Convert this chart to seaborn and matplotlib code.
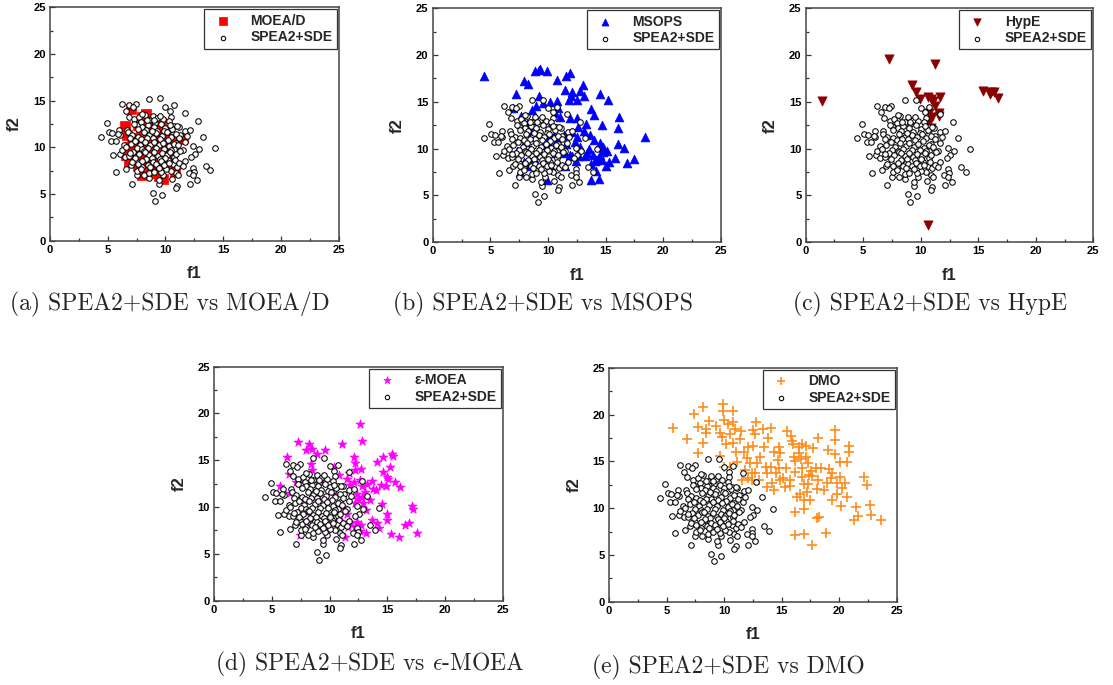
import matplotlib
matplotlib.use("Agg")
import matplotlib.pyplot as plt
from matplotlib.ticker import MultipleLocator
import seaborn as sns
import pandas as pd

# SPEA2+SDE final population (shared reference set in every panel)
sde_f1 = [4.45, 4.9, 5.1, 5.4, 5.3, 5.7, 5.5, 5.75, 6.0, 6.2, 6.55, 6.85, 7.45, 7.2, 7.1, 6.6,
          6.45, 6.1, 6.8, 7.3, 7.5, 6.7, 6.75, 6.05, 6.2, 6.5, 6.85, 7.0, 7.45, 7.5, 7.55, 7.95,
          8.3, 8.1, 8.6, 8.6, 8.9, 9.7, 9.1, 9.45, 9.4, 9.75, 8.6, 9.55, 10.0, 10.75, 10.4, 10.45,
          11.65, 12.8, 13.25, 12.9, 14.25, 13.5, 13.9, 12.7, 12.1, 12.4, 12.45, 12.0, 12.4, 12.4,
          12.55, 12.25, 11.7, 11.5, 11.65, 11.25, 11.15, 11.7, 11.85, 10.7, 10.35, 10.9, 10.75,
          10.75, 10.65, 11.0, 10.9, 10.45, 11.1, 11.0, 10.9, 10.55, 10.2, 10.05, 9.65, 9.3, 9.0,
          7.7, 8.2, 8.9, 9.3, 9.8, 9.5, 8.6, 10.3, 7.9, 9.1,
          7.3, 8.0, 8.5, 9.0, 9.6, 10.0, 10.6, 11.0, 8.3, 9.3, 9.9, 7.6, 10.4,
          7.1, 7.6, 8.1, 8.6, 8.9, 9.2, 9.7, 10.1, 10.5, 10.9, 7.9, 8.4, 9.5, 10.2, 11.2, 6.9, 8.8,
          7.0, 7.4, 7.8, 8.2, 8.7, 9.0, 9.4, 9.8, 10.3, 10.7, 11.1, 8.5, 9.2, 9.9, 10.5, 7.5, 8.0, 6.6,
          7.2, 7.7, 8.1, 8.6, 9.0, 9.35, 9.7, 10.1, 10.4, 10.9, 11.3, 8.8, 9.5, 10.0, 7.4, 8.3, 6.9,
          7.1, 7.6, 8.0, 8.5, 8.9, 9.2, 9.6, 9.9, 10.3, 10.8, 11.2, 8.7, 9.4, 7.9, 11.5,
          8.0, 8.4, 12.1, 5.9, 9.05, 8.25]
sde_f2 = [11.1, 12.6, 11.6, 11.5, 10.7, 10.7, 9.2, 7.35, 11.9, 14.6, 13.9, 14.5, 14.6, 14.3, 6.1, 7.7,
          10.25, 9.3, 13.3, 13.0, 12.4, 11.9, 11.6, 11.3, 9.7, 9.0, 9.1, 8.1, 8.5, 7.0, 7.5, 7.9,
          8.7, 7.0, 6.75, 7.25, 5.15, 4.9, 4.3, 6.05, 6.45, 7.0, 15.2, 15.25, 14.35, 14.5, 13.9, 13.3,
          13.7, 12.8, 11.15, 9.8, 9.95, 8.05, 7.55, 6.45, 6.1, 7.8, 7.35, 7.2, 7.0, 10.1,
          9.3, 9.0, 8.55, 9.75, 10.6, 11.35, 12.2, 11.8, 11.2, 12.3, 11.85, 10.5, 9.8,
          9.0, 8.2, 7.9, 7.2, 7.5, 7.0, 5.9, 5.6, 6.6, 8.6, 7.65, 7.35, 8.0, 7.4,
          13.2, 13.5, 13.4, 13.1, 13.0, 13.4, 12.9, 12.8, 12.7, 12.6,
          12.5, 12.2, 12.4, 12.2, 12.5, 12.1, 12.0, 12.3, 11.9, 11.8, 11.7, 12.0, 12.4,
          11.3, 11.1, 11.6, 11.3, 11.0, 11.5, 11.2, 11.6, 11.1, 11.4, 10.9, 11.0, 10.9, 10.8, 11.0, 11.0, 11.7,
          10.4, 10.7, 10.2, 10.6, 10.3, 10.6, 10.2, 10.5, 10.1, 10.4, 10.2, 9.95, 9.9, 9.85, 9.7, 9.9, 9.8, 10.0,
          9.5, 9.3, 9.6, 9.2, 9.5, 9.1, 9.4, 9.2, 9.5, 9.3, 9.6, 8.9, 8.8, 8.9, 8.9, 8.8, 9.4,
          8.4, 8.2, 8.5, 8.1, 8.4, 8.2, 8.5, 8.1, 8.3, 8.6, 8.3, 7.9, 7.8, 7.7, 8.0,
          13.6, 12.9, 11.9, 11.4, 12.9, 9.55]

# MOEA/D
moead_f1 = [7.0, 8.3, 8.0, 7.6, 6.5, 6.7, 7.2, 8.2, 8.6, 8.9, 9.5, 9.2, 10.0, 10.5, 11.0, 11.5,
            9.7, 8.4, 7.7, 6.8, 7.0, 7.3, 6.6, 7.5, 8.1, 8.5, 9.0, 9.6, 10.2, 10.0, 6.8, 7.4,
            8.2, 8.9, 9.5, 10.3, 10.6, 7.6, 8.0, 8.7, 9.3, 9.8, 10.8, 9.4, 7.1, 8.8, 7.9, 9.6]
moead_f2 = [14.1, 13.6, 13.2, 12.4, 12.3, 11.3, 11.0, 12.0, 12.1, 11.5, 11.9, 11.0, 11.1, 10.8, 10.9, 11.0,
            10.5, 10.4, 10.3, 10.0, 9.6, 9.9, 9.2, 9.2, 9.2, 9.0, 9.7, 9.5, 9.8, 9.2, 8.5, 8.6,
            8.3, 8.4, 8.1, 8.6, 8.2, 8.0, 7.0, 7.6, 7.2, 6.6, 7.4, 6.9, 10.5, 12.9, 11.4, 12.6]

# MSOPS
msops_f1 = [4.46, 7.2, 7.9, 8.3, 8.9, 9.2, 9.3, 9.95, 10.8, 11.6, 11.9, 11.5, 12.1, 12.0, 11.8,
            12.8, 13.0, 13.1, 12.5, 13.7, 14.0, 14.5, 15.2, 16.2, 16.1, 14.7, 16.1, 16.6, 18.4,
            17.5, 16.9, 15.8, 15.3, 15.0, 14.8, 14.4, 14.1, 13.7, 13.7, 14.4, 14.2, 13.6, 13.25,
            12.7, 12.4, 12.1, 11.5, 11.05, 10.8, 10.45, 9.95, 9.6, 9.1, 8.75, 7.9, 7.6, 8.15,
            7.3, 8.0, 8.6, 8.2, 7.7, 7.0, 8.6, 9.0, 9.55, 9.25, 10.2, 10.8, 10.9, 10.6, 11.05,
            11.9, 12.5, 12.65, 13.1, 13.3, 13.65, 14.0, 12.5, 12.05, 12.35, 12.8, 11.6, 11.35,
            10.2, 9.6, 10.05, 10.6, 10.2, 9.9, 11.5, 11.9, 15.1, 14.5, 14.7, 14.2, 13.9, 14.8,
            14.5, 13.4]
msops_f2 = [17.77, 15.8, 17.2, 16.9, 18.3, 18.4, 18.55, 18.3, 17.3, 17.8, 18.1, 16.3, 16.1, 15.6, 15.2,
            16.2, 16.8, 15.6, 15.2, 14.2, 13.6, 15.8, 15.2, 13.35, 12.25, 12.5, 10.5, 10.1, 11.3,
            8.9, 8.5, 9.05, 8.6, 8.1, 9.6, 9.15, 8.7, 8.4, 6.65, 6.8, 7.65, 10.0, 9.2,
            9.2, 8.7, 9.2, 9.5, 10.2, 10.9, 11.6, 11.2, 10.4, 9.65, 8.97, 8.6, 7.5, 8.1,
            9.7, 10.75, 11.9, 12.6, 13.5, 14.4, 14.1, 14.6, 14.9, 15.6, 15.0, 15.1, 14.4, 13.8, 13.4,
            13.25, 13.25, 12.35, 11.9, 12.6, 11.5, 10.9, 11.3, 11.8, 10.75, 10.2, 10.5, 11.45,
            12.4, 13.1, 10.6, 9.5, 8.3, 6.7, 8.1, 9.3, 9.75, 9.3, 8.8, 8.8, 9.3, 10.2,
            10.6, 9.5]

# HypE
hype_f1 = [1.45, 7.2, 11.25, 9.25, 9.55, 9.9, 10.6, 10.85, 11.1, 11.2, 11.7, 11.6, 10.75, 11.0,
           10.7, 10.85, 10.6, 10.65, 15.45, 16.0, 16.35, 16.75, 16.1, 11.55]
hype_f2 = [15.1, 19.55, 19.0, 16.8, 16.05, 15.3, 15.5, 15.35, 15.1, 14.6, 15.5, 13.85, 13.8, 13.35,
           12.9, 12.25, 12.65, 1.85, 16.15, 15.8, 16.05, 15.4, 16.1, 13.5]

# epsilon-MOEA
emoea_f1 = [12.65, 12.8, 7.3, 8.2, 8.0, 8.5, 9.6, 11.1, 6.35, 8.9, 8.4, 8.45, 10.4, 10.8, 12.1,
            12.25, 12.25, 12.7, 14.1, 14.6, 15.4, 15.5, 15.25, 14.6, 15.0, 15.1, 14.9, 15.7, 16.1,
            14.5, 13.65, 13.75, 14.0, 12.8, 12.65, 11.5, 11.8, 12.15, 12.35, 12.5, 12.8, 12.9,
            12.2, 13.5, 14.55, 15.0, 15.0, 17.1, 17.2, 17.55, 16.85, 16.55, 16.05, 15.35, 14.3,
            14.1, 13.65, 13.2, 12.65, 12.35, 11.9, 11.6, 11.35, 12.2, 12.7, 11.05, 10.6, 10.05,
            9.6, 9.7, 7.45, 7.7, 8.0, 8.3, 5.7, 6.5, 7.1, 7.75, 8.25, 9.3, 10.2, 10.35, 9.8, 8.9,
            8.0, 6.6, 11.2, 11.5, 10.5, 13.2, 13.1, 13.25, 11.7]
emoea_f2 = [18.9, 17.1, 16.9, 16.7, 16.1, 16.2, 16.1, 16.7, 15.3, 15.7, 14.6, 13.95, 14.3, 13.4, 15.4,
            14.7, 14.0, 14.1, 14.85, 15.4, 15.7, 15.5, 14.25, 13.8, 13.25, 13.0, 12.2, 12.7, 12.1,
            12.4, 12.75, 11.9, 11.8, 12.2, 12.9, 13.05, 12.35, 12.65, 11.45, 10.9, 11.1, 10.4,
            10.4, 10.75, 10.3, 9.25, 8.6, 10.1, 9.8, 7.25, 8.25, 8.1, 6.75, 7.1, 7.8,
            8.35, 8.6, 7.2, 7.4, 8.45, 8.35, 7.9, 6.85, 7.9, 8.1, 8.45, 8.3, 8.45,
            7.75, 7.2, 7.0, 8.45, 8.45, 9.15, 12.2, 13.5, 12.7, 12.7, 12.55, 12.9, 12.2, 11.45, 10.6, 11.1,
            10.8, 11.5, 10.05, 9.25, 9.45, 9.7, 11.65, 12.5, 13.6]

# DMO
dmo_f1 = [5.6, 6.75, 7.4, 7.7, 7.75, 8.15, 8.15, 8.45, 8.4, 8.7, 9.3, 9.6, 9.9, 9.9, 9.95, 9.85,
          9.65, 10.0, 10.2, 10.35, 10.5, 10.75, 10.8, 10.95, 10.8, 11.0, 11.4, 11.5, 11.1, 11.75,
          12.05, 11.95, 12.25, 12.5, 12.7, 12.8, 12.55, 12.4, 12.4, 12.9, 13.1, 13.4, 13.5, 13.65,
          13.75, 13.8, 14.1, 14.3, 14.1, 14.35, 14.5, 14.75, 14.7, 14.8, 14.85, 15.1, 15.35, 15.5,
          15.7, 15.8, 15.9, 16.0, 16.1, 16.2, 16.15, 16.15, 16.55, 16.55, 16.8, 16.8, 16.8, 16.9,
          16.95, 16.9, 16.9, 17.15, 17.1, 17.3, 17.3, 17.45, 17.55, 17.65, 17.75, 17.65, 18.0,
          18.1, 18.05, 18.15, 18.25, 18.65, 18.85, 18.9, 19.0, 19.15, 19.25, 19.35, 19.35, 19.65,
          19.6, 19.6, 19.8, 19.8, 20.1, 20.1, 20.15, 20.2, 20.5, 20.7, 20.85, 20.85, 20.65, 21.25,
          21.45, 21.65, 22.15, 22.4, 22.7, 22.8, 23.6, 16.65, 16.15, 15.7, 15.3, 14.85, 14.15,
          13.7, 13.0, 12.7, 12.1, 11.8, 10.5, 11.55, 17.4, 16.35, 16.6, 17.2, 18.2, 18.4]
dmo_f2 = [18.6, 17.4, 20.1, 18.7, 15.9, 20.75, 17.0, 18.4, 18.05, 19.35, 18.8, 18.0, 21.1, 20.4, 19.4, 17.6,
          15.55, 14.4, 16.85, 19.0, 17.9, 20.4, 19.2, 18.5, 17.0, 15.95, 17.35, 18.25, 14.95, 16.0,
          16.5, 15.4, 14.8, 18.3, 17.9, 19.2, 16.6, 13.7, 13.0, 14.8, 15.5, 18.4, 16.5, 14.4,
          13.7, 17.45, 18.6, 16.0, 14.4, 11.9, 13.7, 14.25, 15.1, 16.55, 15.85, 13.25, 14.25, 18.25,
          12.35, 17.7, 17.2, 16.8, 15.5, 15.05, 9.55, 7.1, 16.55, 15.85, 16.9, 14.25, 13.35, 12.55,
          10.85, 9.95, 7.2, 16.6, 15.5, 14.8, 12.55, 10.85, 13.95, 13.4, 16.4, 6.1, 14.3,
          12.0, 8.9, 17.45, 9.1, 11.95, 7.35, 12.65, 16.2, 14.15, 13.2, 13.7, 10.85, 18.35,
          17.3, 15.75, 12.65, 11.5, 14.95, 13.35, 10.2, 12.1, 12.65, 11.2, 16.6, 16.0, 14.95, 8.7,
          10.15, 9.15, 13.35, 12.45, 10.35, 9.25, 8.7, 15.2, 13.9, 13.0, 12.3, 13.0, 12.65,
          12.3, 13.0, 13.7, 13.2, 14.05, 14.4, 13.0, 13.5, 11.2, 11.55, 11.75, 13.0, 14.25]

panels = [
    ("MOEA/D", moead_f1, moead_f2, "s", "#ff0000", 46, "(a) SPEA2+SDE vs MOEA/D"),
    ("MSOPS", msops_f1, msops_f2, "^", "#0000ff", 40, "(b) SPEA2+SDE vs MSOPS"),
    ("HypE", hype_f1, hype_f2, "v", "#8b0000", 44, "(c) SPEA2+SDE vs HypE"),
    ("\u03b5-MOEA", emoea_f1, emoea_f2, "*", "#ff00ff", 46, r"(d) SPEA2+SDE vs $\epsilon$-MOEA"),
    ("DMO", dmo_f1, dmo_f2, "+", "#ff8c1a", 42, "(e) SPEA2+SDE vs DMO"),
]

# axes rectangles [left, bottom, width, height] in figure fractions
rects = [
    [0.0449, 0.6486, 0.2594, 0.3407],
    [0.3888, 0.6463, 0.2588, 0.3416],
    [0.7239, 0.6463, 0.2584, 0.3416],
    [0.1923, 0.1231, 0.2594, 0.3416],
    [0.5472, 0.1216, 0.2585, 0.3416],
]
caption_pos = [(0.153, 0.555), (0.488, 0.555), (0.836, 0.555), (0.332, 0.030), (0.654, 0.026)]

sns.set_theme(style="ticks")
plt.rcParams["font.family"] = ["Liberation Sans", "DejaVu Sans"]
plt.rcParams["mathtext.fontset"] = "cm"

fig = plt.figure(figsize=(11.13, 6.85), dpi=100)
sde = pd.DataFrame({"f1": sde_f1, "f2": sde_f2})

for (name, xs, ys, mk, col, size, cap), rect, cpos in zip(panels, rects, caption_pos):
    ax = fig.add_axes(rect)
    df = pd.DataFrame({"f1": xs, "f2": ys})
    if mk == "+":
        sns.scatterplot(data=df, x="f1", y="f2", marker=mk, color=col, s=size,
                        linewidth=1.2, label=name, ax=ax, zorder=2)
    else:
        sns.scatterplot(data=df, x="f1", y="f2", marker=mk, color=col, s=size,
                        edgecolor=col, linewidth=0.5, label=name, ax=ax, zorder=2)
    sns.scatterplot(data=sde, x="f1", y="f2", marker="o", color="white", s=16,
                    edgecolor="black", linewidth=0.75, label="SPEA2+SDE", ax=ax, zorder=3)

    ax.set_xlim(0, 25)
    ax.set_ylim(0, 25)
    ax.xaxis.set_major_locator(MultipleLocator(5))
    ax.yaxis.set_major_locator(MultipleLocator(5))
    ax.xaxis.set_minor_locator(MultipleLocator(2.5))
    ax.yaxis.set_minor_locator(MultipleLocator(2.5))
    ax.tick_params(which="both", direction="in", colors="#333333", labelcolor="black",
                   labelsize=8, width=0.9, pad=3)
    ax.tick_params(which="major", length=3.5)
    ax.tick_params(which="minor", length=2)
    for lab in ax.get_xticklabels() + ax.get_yticklabels():
        lab.set_fontweight("bold")
    for sp in ax.spines.values():
        sp.set_visible(True)
        sp.set_color("#444444")
        sp.set_linewidth(1.1)
    ax.set_xlabel("f1", fontsize=12, fontweight="bold", labelpad=8)
    ax.set_ylabel("f2", fontsize=12, fontweight="bold", labelpad=8)

    leg = ax.legend(loc="upper right", frameon=True, fancybox=False, borderaxespad=0.15,
                    prop={"weight": "bold", "size": 10}, handlelength=2.0,
                    handletextpad=1.0, labelspacing=0.2, borderpad=0.3, markerscale=0.8)
    leg.get_frame().set_edgecolor("black")
    leg.get_frame().set_linewidth(0.9)

    fig.text(cpos[0], cpos[1], cap, ha="center", va="center", fontsize=17,
             family=["cmr10", "DejaVu Serif"])

fig.savefig("out.png", dpi=100)
